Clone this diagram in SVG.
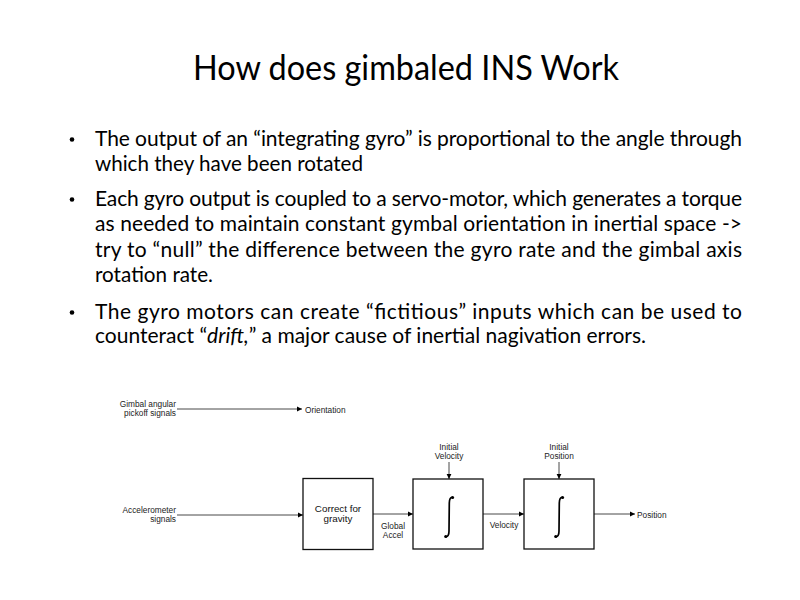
<svg xmlns="http://www.w3.org/2000/svg" width="800" height="600" viewBox="0 0 800 600">
<style>
.title{font-family:Lato,"Open Sans","Liberation Sans",sans-serif;font-size:35px;fill:#000}
.body{font-family:Lato,"Open Sans","Liberation Sans",sans-serif;font-size:21px;fill:#000}
.lbl{font-family:"Liberation Sans","DejaVu Sans",sans-serif;font-size:8.3px;fill:#222}
.blk{font-family:"Liberation Sans","DejaVu Sans",sans-serif;font-size:9.8px;fill:#111;text-anchor:middle}
.box{fill:#fff;stroke:#111;stroke-width:1.3}
.wire{fill:none;stroke:#333;stroke-width:0.9}
.integ{fill:none;stroke:#000;stroke-width:1.7;stroke-linecap:round}
.dot{fill:#000}
</style>
<defs>
<marker id="arr" markerWidth="6" markerHeight="6" refX="5" refY="3" orient="auto" markerUnits="userSpaceOnUse">
<path d="M0,0.6 L5,3 L0,5.4 Z" fill="#000"/>
</marker>
</defs>
<rect width="800" height="600" fill="#fff"/>
<text class="title" x="193" y="80" textLength="426" lengthAdjust="spacingAndGlyphs">How does gimbaled INS Work</text>

<g id="bullets">
<circle class="dot" cx="72" cy="139.5" r="2.3"/>
<text class="body" x="95" y="146" textLength="647" lengthAdjust="spacing">The output of an “integrating gyro” is proportional to the angle through</text>
<text class="body" x="95" y="171" textLength="268" lengthAdjust="spacingAndGlyphs">which they have been rotated</text>
<circle class="dot" cx="72" cy="199.5" r="2.3"/>
<text class="body" x="95" y="206" textLength="647" lengthAdjust="spacing">Each gyro output is coupled to a servo-motor, which generates a torque</text>
<text class="body" x="95" y="231" textLength="647" lengthAdjust="spacing">as needed to maintain constant gymbal orientation in inertial space -&gt;</text>
<text class="body" x="95" y="256.5" textLength="647" lengthAdjust="spacing">try to “null” the difference between the gyro rate and the gimbal axis</text>
<text class="body" x="95" y="282" textLength="118" lengthAdjust="spacingAndGlyphs">rotation rate.</text>
<circle class="dot" cx="72" cy="312.5" r="2.3"/>
<text class="body" x="95" y="319" textLength="647" lengthAdjust="spacing">The gyro motors can create “fictitious” inputs which can be used to</text>
<text class="body" x="95" y="343">counteract “<tspan font-style="italic">drift,</tspan>” a major cause of inertial nagivation errors.</text>
</g>

<g id="connectors">
<line class="wire" x1="177" y1="409" x2="302" y2="409" marker-end="url(#arr)"/>
<line class="wire" x1="177" y1="515" x2="303" y2="515" marker-end="url(#arr)"/>
<line class="wire" x1="373" y1="514" x2="413" y2="514" marker-end="url(#arr)"/>
<line class="wire" x1="483" y1="514" x2="524" y2="514" marker-end="url(#arr)"/>
<line class="wire" x1="594" y1="514" x2="635" y2="514" marker-end="url(#arr)"/>
<line class="wire" x1="449" y1="462" x2="449" y2="479" marker-end="url(#arr)"/>
<line class="wire" x1="559" y1="462" x2="559" y2="479" marker-end="url(#arr)"/>
</g>

<g id="gimbal-input">
<text class="lbl" x="176" y="406.5" text-anchor="end">Gimbal angular</text>
<text class="lbl" x="176" y="415.5" text-anchor="end">pickoff signals</text>
</g>
<g id="orientation">
<text class="lbl" x="305" y="412.5">Orientation</text>
</g>
<g id="accel-input">
<text class="lbl" x="176" y="513" text-anchor="end">Accelerometer</text>
<text class="lbl" x="176" y="522" text-anchor="end">signals</text>
</g>
<g id="correct-gravity">
<rect class="box" x="303" y="478.5" width="70" height="71"/>
<text class="blk" x="338" y="511.5">Correct for</text>
<text class="blk" x="338" y="521.5">gravity</text>
</g>
<g id="global-accel-label">
<text class="lbl" x="393" y="528.5" text-anchor="middle">Global</text>
<text class="lbl" x="393" y="537.5" text-anchor="middle">Accel</text>
</g>
<g id="initial-velocity">
<text class="lbl" x="449" y="450" text-anchor="middle">Initial</text>
<text class="lbl" x="449" y="459" text-anchor="middle">Velocity</text>
</g>
<g id="integrator-1">
<rect class="box" x="413" y="479" width="70" height="70"/>
<path class="integ" d="M452.5,497.5 C450.5,497 449.3,499 449.3,503 L449,531 C449,535 447.8,537 445.8,536.5"/>
<circle class="dot" cx="452.6" cy="497.6" r="1.5"/>
<circle class="dot" cx="445.7" cy="536.5" r="1.5"/>
</g>
<g id="velocity-label">
<text class="lbl" x="504" y="528" text-anchor="middle">Velocity</text>
</g>
<g id="initial-position">
<text class="lbl" x="559" y="450" text-anchor="middle">Initial</text>
<text class="lbl" x="559" y="459" text-anchor="middle">Position</text>
</g>
<g id="integrator-2">
<rect class="box" x="524" y="479" width="70" height="70"/>
<path class="integ" d="M562.5,497.5 C560.5,497 559.3,499 559.3,503 L559,531 C559,535 557.8,537 555.8,536.5"/>
<circle class="dot" cx="562.6" cy="497.6" r="1.5"/>
<circle class="dot" cx="555.7" cy="536.5" r="1.5"/>
</g>
<g id="position">
<text class="lbl" x="637" y="517.5">Position</text>
</g>
</svg>
